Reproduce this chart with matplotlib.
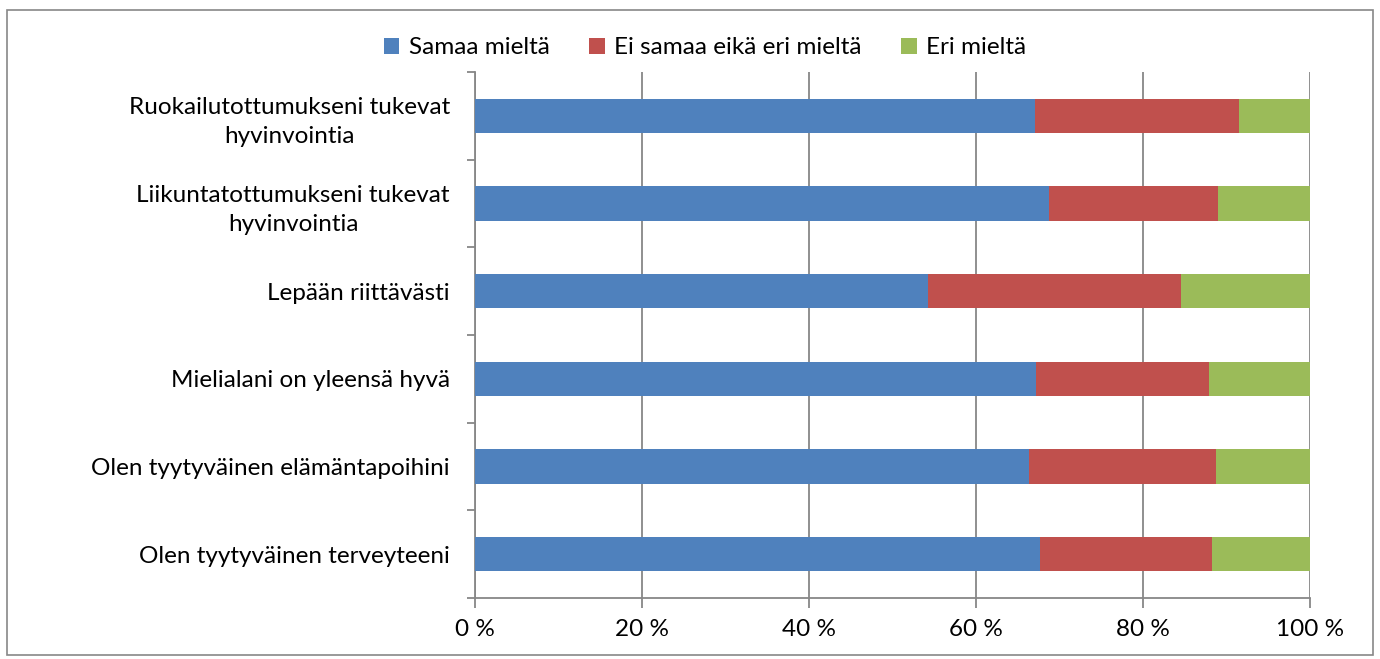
import numpy as np
import matplotlib.pyplot as plt
from matplotlib.patches import Rectangle

plt.rcParams['font.family'] = ['Lato', 'DejaVu Sans']

kategoriat = [
    "Ruokailutottumukseni tukevat\nhyvinvointia",
    "Liikuntatottumukseni tukevat\nhyvinvointia",
    "Lepään riittävästi",
    "Mielialani on yleensä hyvä",
    "Olen tyytyväinen elämäntapoihini",
    "Olen tyytyväinen terveyteeni",
]
samaa = [67.1, 68.7, 54.2, 67.2, 66.3, 67.7]
ei_samaa = [24.4, 20.3, 30.4, 20.7, 22.4, 20.6]
eri = [8.5, 11.0, 15.4, 12.1, 11.3, 11.7]

sarjat = ["Samaa mieltä", "Ei samaa eikä eri mieltä", "Eri mieltä"]
varit = ["#4F81BD", "#C0504D", "#9BBB59"]
harmaa = "#878787"
koko = 17.5

fig = plt.figure(figsize=(13.8, 6.59), dpi=100)
ax = fig.add_axes([475 / 1380, 61 / 659, 835 / 1380, 526 / 659])

y = np.arange(len(kategoriat))[::-1]
vasen = np.zeros(len(kategoriat))
for arvot, nimi, vari in zip([samaa, ei_samaa, eri], sarjat, varit):
    ax.barh(y, arvot, left=vasen, height=0.39, color=vari, label=nimi, zorder=3)
    vasen = vasen + np.array(arvot)

ax.set_xlim(0, 100)
ax.set_ylim(-0.5, len(kategoriat) - 0.5)
ax.set_xticks(np.arange(0, 101, 20))
ax.set_xticklabels([f"{v} %" for v in range(0, 101, 20)], fontsize=koko)
ax.xaxis.grid(True, color=harmaa, linewidth=1.3, zorder=0)

ax.set_yticks(y)
ax.set_yticklabels(kategoriat, fontsize=koko, ha="right", multialignment="center")
for t in ax.get_yticklabels():
    t.set_linespacing(1.5)
ax.tick_params(axis="y", length=0, pad=18)
ax.set_yticks(np.arange(-0.5, len(kategoriat), 1), minor=True)
ax.tick_params(axis="y", which="minor", length=6, color=harmaa, width=1.3)
ax.tick_params(axis="x", length=7, color=harmaa, width=1.3, pad=8)

for s in ["top", "right"]:
    ax.spines[s].set_visible(False)
for s in ["left", "bottom"]:
    ax.spines[s].set_color(harmaa)
    ax.spines[s].set_linewidth(1.3)

fig.legend(*ax.get_legend_handles_labels(), loc="center",
           bbox_to_anchor=(705 / 1380, 1 - 48 / 659),
           ncol=3, frameon=False, fontsize=koko, handlelength=0.65, handleheight=0.65,
           handletextpad=0.4, columnspacing=1.6, borderaxespad=0)

fig.patches.append(Rectangle((7 / 1380, 4 / 659), 1366 / 1380, 645 / 659,
                             transform=fig.transFigure, fill=False,
                             edgecolor=harmaa, linewidth=1.2))

fig.savefig("out.png", dpi=100)
